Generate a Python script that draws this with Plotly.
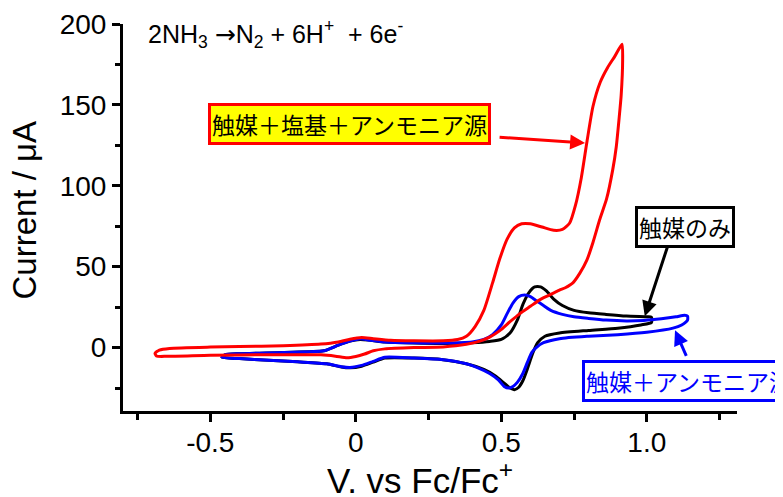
import plotly.graph_objects as go

# ---------------- data ----------------
red_v = [-0.69, -0.675, -0.64, -0.5, -0.4, -0.25, -0.12, -0.06, -0.02, 0.02, 0.06, 0.12, 0.2, 0.3,
         0.35, 0.38, 0.41, 0.44, 0.47, 0.495, 0.52, 0.545, 0.57, 0.6, 0.64, 0.68, 0.71, 0.735,
         0.755, 0.775, 0.795, 0.815, 0.84, 0.865, 0.89, 0.915,
         0.917, 0.912, 0.905, 0.895, 0.883, 0.862, 0.838, 0.815, 0.794, 0.77, 0.746, 0.72, 0.70,
         0.66, 0.632, 0.6, 0.564, 0.53, 0.495, 0.46, 0.426, 0.38, 0.3, 0.2, 0.1, 0.06, 0.03, 0.0,
         -0.03, -0.07, -0.12, -0.3, -0.5, -0.65, -0.685, -0.69]
red_i = [-3.5, -1.5, -0.5, 0.3, 0.6, 1.2, 2.2, 3.5, 5.2, 6.2, 5.5, 4.5, 4.2, 4.2,
         5.0, 7.0, 13, 23, 40, 55, 67, 74, 76.5, 76.5, 74.5, 72.5, 73, 77,
         88, 105, 128, 149, 164, 173, 180, 187.5,
         178, 156, 142, 124, 110, 92, 79, 65, 54, 46, 40, 37, 35.5,
         32, 29.5, 25.5, 21, 16, 10.5, 6.5, 4.0, 2.0, 0.4, 0.0, -0.8, -2.0, -4.0, -5.5,
         -6.3, -5.3, -4.5, -4.4, -4.8, -5.4, -5.2, -3.5]

black_v = [-0.46, -0.45, -0.4, -0.25, -0.11, -0.06, -0.02, 0.015, 0.05, 0.1, 0.2, 0.3, 0.4, 0.46,
           0.5, 0.53, 0.555, 0.575, 0.595, 0.615, 0.635, 0.655, 0.68, 0.71, 0.75, 0.8, 0.86, 0.93,
           1.0, 1.016,
           1.016, 0.98, 0.9, 0.8, 0.7, 0.65, 0.625, 0.608, 0.59, 0.574, 0.56, 0.545, 0.53, 0.51,
           0.48, 0.44, 0.38, 0.3, 0.2, 0.1, 0.06, 0.02, -0.02, -0.05, -0.1, -0.2, -0.3, -0.4, -0.46]
black_i = [-6, -4.5, -3.8, -3, -2, 1.5, 4, 5, 4.5, 3.5, 2.8, 2.5, 3, 3.8,
           5, 9, 17, 27, 34, 37.5, 37.5, 35, 30, 26, 23, 21.5, 20.5, 19.5,
           19, 18.8,
           15.5, 14, 12, 10.6, 9, 7, 3, -3.5, -13, -20.5, -24.5, -26, -25, -22,
           -17.5, -13.5, -10, -7.5, -6.5, -6.5, -9, -11.5, -12.5, -12, -10, -8.8, -7.8, -6.8, -6]

blue_v = [-0.46, -0.45, -0.4, -0.25, -0.11, -0.06, -0.02, 0.015, 0.05, 0.1, 0.2, 0.3, 0.4, 0.44,
          0.47, 0.5, 0.52, 0.54, 0.56, 0.58, 0.6, 0.62, 0.645, 0.67, 0.71, 0.75, 0.8, 0.86, 0.93,
          0.99, 1.05, 1.1, 1.13, 1.14,
          1.14, 1.12, 1.09, 1.0, 0.9, 0.8, 0.7, 0.645, 0.62, 0.605, 0.59, 0.574, 0.555, 0.54,
          0.525, 0.51, 0.49, 0.46, 0.42, 0.38, 0.3, 0.2, 0.1, 0.06, 0.02, -0.02, -0.05, -0.1,
          -0.2, -0.3, -0.4, -0.46]
blue_i = [-6, -4.5, -3.8, -3, -2, 1.5, 4, 5.5, 4.5, 3.5, 3, 2.8, 3.5, 5,
          8, 14, 21, 27.5, 31.5, 32.5, 31.5, 29, 26, 23, 20.5, 19, 18, 17, 16.5,
          16.8, 17.8, 19, 20, 19.5,
          17, 14, 12, 9.5, 8, 7, 5.5, 3, 0, -3, -9, -16, -21.5, -24,
          -25, -24, -20, -16, -12.5, -10, -7.5, -6.5, -6, -8.5, -11, -12.3, -11.8, -10,
          -8.8, -7.8, -6.8, -6]

x_ticks = [-0.5, 0, 0.5, 1.0]
x_ticktext = ["-0.5", "0", "0.5", "1.0"]
x_minor = [-0.75, -0.25, 0.25, 0.75, 1.25]
y_ticks = [0, 50, 100, 150, 200]
y_minor = [-25, 25, 75, 125, 175]

x_title = "V. vs Fc/Fc<sup>+</sup>"
y_title = "Current / μA"
label_red = "触媒＋塩基＋アンモニア源"
label_black = "触媒のみ"
label_blue = "触媒＋アンモニア源"
equation = ("2NH<sub>3</sub> <span style=\"font-family:DejaVu Sans\">→</span>N<sub>2</sub>"
            " + 6H<sup>+</sup>  + 6e<sup>-</sup>")

# ---------------- figure ----------------
LAT = "Liberation Sans, Arial, sans-serif"
JP = "Noto Sans CJK JP"

fig = go.Figure()
fig.add_trace(go.Scatter(x=black_v, y=black_i, mode="lines",
                         line=dict(color="black", width=3, shape="spline", smoothing=0.6)))
fig.add_trace(go.Scatter(x=blue_v, y=blue_i, mode="lines",
                         line=dict(color="#0000ff", width=3, shape="spline", smoothing=0.6)))
fig.add_trace(go.Scatter(x=red_v, y=red_i, mode="lines",
                         line=dict(color="#ff0000", width=3, shape="spline", smoothing=0.6)))

annos = []
# axis titles
annos.append(dict(x=-0.16, y=0.52, xref="paper", yref="paper", text=y_title, showarrow=False,
                  textangle=-90, xanchor="center", yanchor="middle",
                  font=dict(family=LAT, size=33, color="black")))
annos.append(dict(x=0.4845, y=-0.174, xref="paper", yref="paper", text=x_title, showarrow=False,
                  xanchor="center", yanchor="middle",
                  font=dict(family=LAT, size=35, color="black")))
# equation
annos.append(dict(x=0.0375, y=0.974, xref="paper", yref="paper", text=equation, showarrow=False,
                  xanchor="left", yanchor="middle", font=dict(family=LAT, size=25, color="black")))
# labels & arrows
annos.append(dict(x=-0.0217, y=137.9, xref="x", yref="y", text=label_red, showarrow=False,
                  bgcolor="#ffff00", bordercolor="#ff0000", borderwidth=3, borderpad=1,
                  font=dict(family=JP, size=23, color="black")))
annos.append(dict(x=0.788, y=126.4, ax=0.489, ay=130.1, axref="x", ayref="y", xref="x", yref="y",
                  text="", showarrow=True, arrowcolor="#ff0000", arrowwidth=3, arrowhead=2,
                  arrowsize=1))
annos.append(dict(x=1.1296, y=74.75, xref="x", yref="y", text=label_black, showarrow=False,
                  bgcolor="white", bordercolor="black", borderwidth=3, borderpad=1,
                  font=dict(family=JP, size=23, color="black")))
annos.append(dict(x=0.9931, y=19.4, ax=1.0729, ay=63.3, axref="x", ayref="y", xref="x", yref="y",
                  text="", showarrow=True, arrowcolor="black", arrowwidth=3, arrowhead=2,
                  arrowsize=1))
annos.append(dict(x=0.7773, y=-20.9, xref="x", yref="y", text=label_blue, showarrow=False,
                  xanchor="left", bgcolor="white", bordercolor="#0000ff", borderwidth=3,
                  borderpad=1, font=dict(family=JP, size=23, color="#0000ff")))
annos.append(dict(x=1.097, y=10.7, ax=1.138, ay=-6.0, axref="x", ayref="y", xref="x", yref="y",
                  text="", showarrow=True, arrowcolor="#0000ff", arrowwidth=3, arrowhead=2,
                  arrowsize=1))

# the page body has an 8 px default margin; the figure is sized to fill the rest of the window
fig.update_layout(
    width=775, height=489,
    margin=dict(l=115, r=46, t=16, b=86, autoexpand=False),
    paper_bgcolor="white", plot_bgcolor="white",
    showlegend=False,
    font=dict(family=LAT, color="black"),
    annotations=annos,
    xaxis=dict(range=[-0.800, 1.31], showgrid=False, zeroline=False, automargin=False,
               showline=True, linewidth=3, linecolor="black",
               ticks="outside", ticklen=8, tickwidth=2.5, tickcolor="black",
               tickvals=x_ticks, ticktext=x_ticktext, ticklabelstandoff=-4,
               tickfont=dict(family=LAT, size=28, color="black"),
               minor=dict(tickmode="array", tickvals=x_minor,
                          ticks="outside", ticklen=6, tickwidth=2.5, tickcolor="black")),
    yaxis=dict(range=[-39.2, 200], showgrid=False, zeroline=False, automargin=False,
               showline=True, linewidth=3, linecolor="black",
               ticks="outside", ticklen=8, tickwidth=2.5, tickcolor="black",
               tickvals=y_ticks,
               tickfont=dict(family=LAT, size=28, color="black"),
               minor=dict(tickmode="array", tickvals=y_minor,
                          ticks="outside", ticklen=5, tickwidth=2.5, tickcolor="black")),
)

fig.write_html("out.html")
